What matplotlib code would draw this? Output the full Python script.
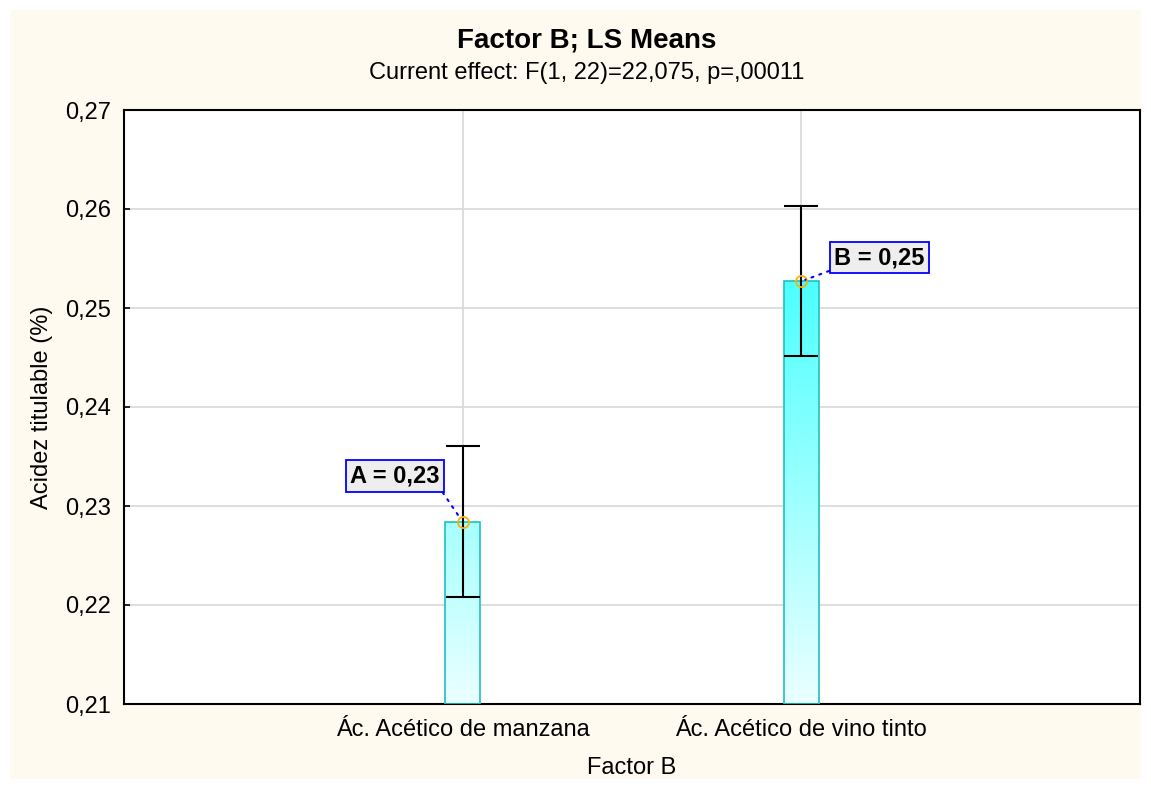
import numpy as np
import matplotlib
matplotlib.use("Agg")
import matplotlib.pyplot as plt
from matplotlib.colors import LinearSegmentedColormap
from matplotlib.patches import Rectangle

plt.rcParams['font.family'] = ['Liberation Sans', 'DejaVu Sans']

# datos
categorias = ['Ác. Acético de manzana', 'Ác. Acético de vino tinto']
medias = [0.2284, 0.2527]
err_sup = [0.2361, 0.2603]
err_inf = [0.2208, 0.2452]
etiquetas = ['A = 0,23', 'B = 0,25']
yticks = [0.21, 0.22, 0.23, 0.24, 0.25, 0.26, 0.27]
ytick_labels = ['0,21', '0,22', '0,23', '0,24', '0,25', '0,26', '0,27']

titulo = 'Factor B; LS Means'
subtitulo = 'Current effect: F(1, 22)=22,075, p=,00011'

fig = plt.figure(figsize=(11.51, 7.89), dpi=100)
fig.patch.set_facecolor('white')
# fondo crema con margen blanco
fig.patches.append(Rectangle((10 / 1151, 10 / 789), 1131 / 1151, 769 / 789,
                             transform=fig.transFigure, facecolor='#FFFAF0',
                             edgecolor='none', zorder=-10))

ax = fig.add_axes([124 / 1151, 85 / 789, 1016 / 1151, 594 / 789])
ax.set_facecolor('white')

x = np.arange(len(categorias))
ancho = 0.103
y0, y1 = 0.21, 0.27

cmap = LinearSegmentedColormap.from_list('grad', ['#EBFFFF', '#00FFFF'])
barras = ax.bar(x, np.array(medias) - y0, bottom=y0, width=ancho,
                facecolor='none', edgecolor='#20C0C0', linewidth=1.2, zorder=3)
for xi, m, b in zip(x, medias, barras):
    ys = np.linspace(m, y0, 200).reshape(-1, 1)
    im = ax.imshow(ys, cmap=cmap, vmin=0.21, vmax=0.2735, aspect='auto',
                   extent=[xi - ancho / 2, xi + ancho / 2, y0, m], zorder=2,
                   interpolation='bilinear')
    im.set_clip_path(b)

medias_a = np.array(medias)
ax.errorbar(x, medias, yerr=[medias_a - np.array(err_inf), np.array(err_sup) - medias_a],
            fmt='none', ecolor='black', elinewidth=1.5, capsize=12, capthick=1.5, zorder=4)
ax.plot(x, medias, 'o', mfc='none', mec='#FFB000', ms=8, mew=1.3, zorder=5)

offsets = [(-49, 33), (56, 17)]
relpos = [(1, 0), (0, 0)]
for xi, m, t, off, rp in zip(x, medias, etiquetas, offsets, relpos):
    ax.annotate(t, xy=(xi, m), xytext=off, textcoords='offset points',
                ha='center', va='center', fontsize=17, fontweight='bold',
                bbox=dict(boxstyle='square,pad=0.18', fc='#EEEEEE', ec='#0000FF', lw=1.3),
                arrowprops=dict(arrowstyle='-', color='#0000FF', ls=(0, (1, 3)),
                                lw=1.5, relpos=rp, shrinkA=0, shrinkB=3),
                zorder=6)

ax.set_xlim(-1, 2)
ax.set_ylim(y0, y1)
ax.set_xticks(x)
ax.set_xticklabels(categorias)
ax.set_yticks(yticks)
ax.set_yticklabels(ytick_labels)
ax.tick_params(direction='in', length=4, width=1.2, labelsize=17, pad=9)
ax.tick_params(axis='x', pad=11)
ax.grid(True, color='#D8D8D8', lw=1.2, zorder=0)
ax.set_axisbelow(True)
for s in ax.spines.values():
    s.set_linewidth(1.5)

fig.text(587 / 1151, 1 - 40 / 789, titulo, ha='center', va='center',
         fontsize=20, fontweight='bold')
fig.text(587 / 1151, 1 - 73 / 789, subtitulo, ha='center', va='center', fontsize=17)
fig.text(632 / 1151, 1 - 768 / 789, 'Factor B', ha='center', va='center', fontsize=17)
fig.text(42 / 1151, 1 - 407 / 789, 'Acidez titulable (%)', ha='center', va='center',
         fontsize=17, rotation=90)

fig.savefig('out.png', dpi=100, facecolor=fig.get_facecolor())
